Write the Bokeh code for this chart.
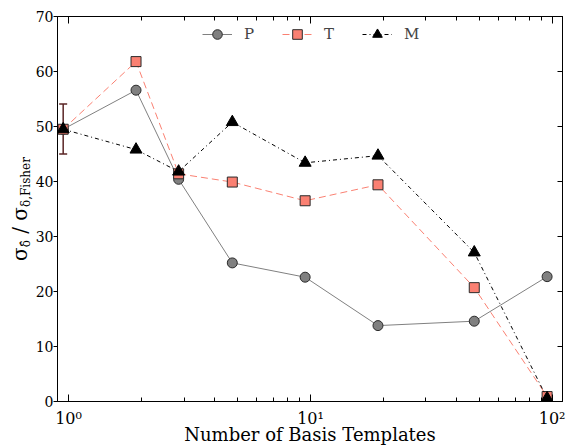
from bokeh.plotting import figure
from bokeh.layouts import row
from bokeh.models import (LogAxis, LinearAxis, FixedTicker, Legend, LegendItem,
                          Whisker, TeeHead, ColumnDataSource, Div, CustomJSTickFormatter)
from bokeh.embed import file_html
from bokeh.resources import INLINE

# ---- data ----
n_templates = [0.95, 1.9, 2.85, 4.75, 9.5, 19.0, 47.5, 95.0]
p_vals = [49.5, 56.6, 40.4, 25.2, 22.6, 13.8, 14.6, 22.7]
t_vals = [49.5, 61.8, 41.4, 39.9, 36.5, 39.4, 20.7, 0.9]
m_vals = [49.5, 45.8, 41.8, 50.8, 43.4, 44.7, 27.1, 0.6]
err_x = [0.95]
err_lower = [45.0]
err_upper = [54.1]

x_major = [1, 10, 100]
x_minor = [2, 3, 4, 5, 6, 7, 8, 9, 20, 30, 40, 50, 60, 70, 80, 90]
x_tick_labels = {1: "10\u2070", 10: "10\u00b9", 100: "10\u00b2"}
y_ticks = [0, 10, 20, 30, 40, 50, 60, 70]
series_names = ["P", "T", "M"]
x_title = "Number of Basis Templates"

FONT = "DejaVu Serif"
W, H = 565, 447
SW = 32  # width of the strip holding the y title

p = figure(width=W - SW, height=H, x_axis_type="log", x_range=(0.9, 110), y_range=(0, 70),
           output_backend="svg", toolbar_location=None,
           min_border_left=56 - SW, min_border_right=3, min_border_top=16, min_border_bottom=45)
p.xgrid.visible = False
p.ygrid.visible = False
p.outline_line_color = "black"
p.outline_line_width = 1
p.background_fill_color = "white"
p.border_fill_color = "white"

xa = p.xaxis[0]
xa.ticker = FixedTicker(ticks=x_major, minor_ticks=x_minor)
xa.major_label_overrides = x_tick_labels
xa.major_tick_in = 7
xa.major_tick_out = 0
xa.minor_tick_in = 4
xa.minor_tick_out = 0
xa.major_label_standoff = 7
xa.major_label_text_font = FONT
xa.major_label_text_font_size = "16px"
xa.major_label_text_color = "black"
xa.axis_label = x_title
xa.axis_label_text_font = FONT
xa.axis_label_text_font_size = "18px"
xa.axis_label_text_font_style = "normal"
xa.axis_label_standoff = -7
xa.axis_label_text_color = "black"

ya = p.yaxis[0]
ya.ticker = FixedTicker(ticks=y_ticks, minor_ticks=[])
ya.major_tick_in = 0
ya.major_tick_out = 4
ya.major_label_standoff = 0
ya.major_label_text_font = FONT
ya.major_label_text_font_size = "14px"
ya.major_label_text_color = "black"

blank = CustomJSTickFormatter(code="return ''")
right_ax = LinearAxis(ticker=FixedTicker(ticks=y_ticks, minor_ticks=[]), formatter=blank,
                      major_tick_in=5, major_tick_out=0, minor_tick_in=0, minor_tick_out=0,
                      major_label_text_font_size="1px", major_label_standoff=0)
p.add_layout(right_ax, "right")
top_ax = LogAxis(ticker=FixedTicker(ticks=x_major, minor_ticks=x_minor), formatter=blank,
                 major_tick_in=7, major_tick_out=0, minor_tick_in=4, minor_tick_out=0,
                 major_label_text_font_size="1px", major_label_standoff=0)
p.add_layout(top_ax, "above")

# error bar at first point
esrc = ColumnDataSource(dict(base=err_x, lower=err_lower, upper=err_upper))
ecol = "#5a2525"
wh = Whisker(base="base", lower="lower", upper="upper", source=esrc,
             line_color=ecol, line_width=1.5,
             upper_head=TeeHead(size=8, line_color=ecol, line_width=1.5),
             lower_head=TeeHead(size=8, line_color=ecol, line_width=1.5),
             level="underlay")
p.add_layout(wh)

lP = p.line(n_templates, p_vals, line_color="#808080", line_width=1)
sP = p.scatter(n_templates, p_vals, marker="circle", size=10, fill_color="#808080",
               line_color="#2a2a2a", line_width=1)
lT = p.line(n_templates, t_vals, line_color="#fa8072", line_width=1, line_dash="7 4")
sT = p.scatter(n_templates, t_vals, marker="square", size=10, fill_color="#fa8072",
               line_color="#2a2a2a", line_width=1)
lM = p.line(n_templates, m_vals, line_color="black", line_width=1, line_dash="4 3 1 3")
sM = p.scatter(n_templates, m_vals, marker="triangle", size=12, fill_color="black",
               line_color="black", line_width=1)

legend = Legend(items=[LegendItem(label=series_names[0], renderers=[lP, sP]),
                       LegendItem(label=series_names[1], renderers=[lT, sT]),
                       LegendItem(label=series_names[2], renderers=[lM, sM])],
                orientation="horizontal", location=(138, 348),
                border_line_alpha=0, background_fill_alpha=0,
                glyph_width=30, glyph_height=24, label_standoff=12, spacing=18,
                padding=7, margin=0, label_text_font=FONT, label_text_font_size="15px")
p.add_layout(legend)

# y title with sub-scripts, as rotated HTML text in a narrow strip left of the plot
sub = "font-size:12px;position:relative;top:3px;"
y_title_html = (
    '<div style="transform:rotate(-90deg);transform-origin:0 0;margin-top:261px;'
    'margin-left:10px;white-space:nowrap;width:max-content;'
    "font-family:'DejaVu Serif';font-size:20px;line-height:20px;color:black;\">"
    '\u03c3<span style="' + sub + '">\u03b4\u0302</span> / '
    '\u03c3<span style="' + sub + '">\u03b4,Fisher</span></div>')
strip = Div(text=y_title_html, width=SW, height=H, margin=0)

layout = row(strip, p, spacing=0)
open("out.html", "w").write(file_html(layout, INLINE))
